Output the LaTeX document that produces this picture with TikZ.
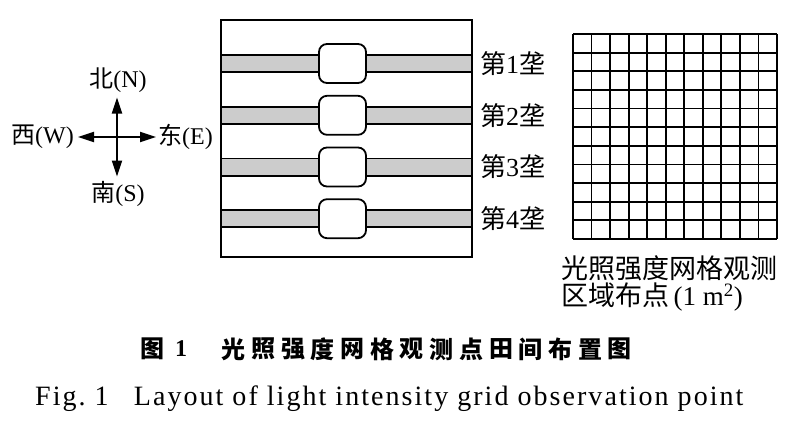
\documentclass[tikz,border=0pt]{standalone}
\usepackage{fontspec}
\setmainfont{Liberation Serif}
\newfontfamily\cjk{Noto Sans CJK SC}
\newfontfamily\capfont[LetterSpace=7.3]{Liberation Serif}
\usetikzlibrary{arrows.meta}
\definecolor{stripgray}{HTML}{CCCCCC}
\tikzset{
  lbl/.style={inner sep=0pt, font=\fontsize{24}{28}\selectfont},
  rowlbl/.style={inner sep=0pt, anchor=west, font=\fontsize{26}{30}\selectfont},
  gridlbl/.style={inner sep=0pt, anchor=west, font=\fontsize{27}{30}\selectfont},
  compassarrow/.style={line width=2pt, -{Triangle[length=16pt,width=10pt]}},
  plantbox/.style={draw=black, line width=1.8pt, fill=white, rounded corners=8pt},
  gridline/.style={line width=1.8pt},
  cap1/.style={inner sep=0pt, font=\cjk\bfseries\fontsize{24}{28}\selectfont},
}
\begin{document}
\begin{tikzpicture}[x=1pt,y=-1pt]
\useasboundingbox (0,0) rectangle (800,428);
% compass
\coordinate (c) at (117,137);
\coordinate (tn) at (117,97.5);
\coordinate (ts) at (117,176.5);
\coordinate (tw) at (78,137);
\coordinate (te) at (156,137);
\draw[compassarrow] (c) -- (tn);
\draw[compassarrow] (c) -- (ts);
\draw[compassarrow] (c) -- (tw);
\draw[compassarrow] (c) -- (te);
\node[lbl] (N) at (118,80) {{\cjk 北}(N)};
\node[lbl] (S) at (118,194) {{\cjk 南}(S)};
\node[lbl, anchor=east] (W) at (74,137) {{\cjk 西}(W)};
\node[lbl, anchor=west] (E) at (158,137) {{\cjk 东}(E)};
% field
\foreach \k/\yc in {1/63.5,2/115.3,3/167,4/218.7}{
  \fill[stripgray] (221,\yc-8.6) rectangle (472,\yc+8.6);
  \draw[line width=1.8pt] (221,\yc-8.6) -- (472,\yc-8.6);
  \draw[line width=1.8pt] (221,\yc+8.6) -- (472,\yc+8.6);
  \node[plantbox, minimum width=47pt, minimum height=39pt, inner sep=0pt] (p\k) at (342.5,\yc) {};
  \node[rowlbl] (r\k) at (480,\yc) {{\cjk 第}\k{\cjk 垄}};
}
\draw[line width=2pt] (221,20) rectangle (472,257);
% grid
\foreach \i in {0,...,11}{
  \draw[gridline] (573+\i*18.545,34) -- (573+\i*18.545,239);
  \draw[gridline] (573,34+\i*18.636) -- (777,34+\i*18.636);
}
\node[gridlbl] (g1) at (561,268) {\cjk 光照强度网格观测};
\node[gridlbl] (g2) at (561,297) {{\cjk 区域布点}\,(1~m\textsuperscript{2})};
% caption 1
\node[cap1] (t0) at (152,349) {图};
\node[inner sep=0pt, font=\bfseries\fontsize{24}{28}\selectfont] (t1) at (181,349) {1};
\foreach \ch [count=\i from 0] in {光,照,强,度,网,格,观,测,点,田,间,布,置,图}{
  \node[cap1] (c\i) at (233.7+\i*29.7,349) {\ch};
}
% caption 2
\node[inner sep=0pt, anchor=base west, font=\capfont\fontsize{28}{30}\selectfont] (fig) at (35,405.7) {Fig.~1\hspace{0.9em}Layout of light intensity grid observation point};
\end{tikzpicture}
\end{document}
